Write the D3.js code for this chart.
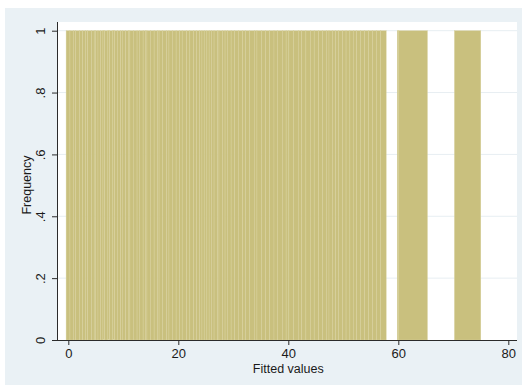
<!DOCTYPE html>
<html>
<head>
<meta charset="utf-8">
<script src="https://cdn.jsdelivr.net/npm/d3@7"></script>
<style>
  html, body { margin: 0; padding: 0; background: #ffffff; }
  svg { display: block; }
  text { font-family: "Liberation Sans", Arial, sans-serif; fill: #1a1a1a; }
</style>
</head>
<body>
<svg id="chart" width="522" height="385"></svg>
<script>
// Histogram of fitted values: bin edges of each contiguous run of bins
const runA = [-0.4, 0.3, 0.9, 1.3, 2.0, 2.6, 3.1, 3.5, 4.2, 4.7, 5.0, 5.4, 5.9, 6.3, 6.6, 7.2, 7.5, 8.1, 8.4, 8.9,
  9.5, 9.8, 10.4, 10.9, 11.2, 11.8, 12.5, 12.9, 13.6, 14.0, 14.3, 14.9, 15.6, 16.2, 16.5, 17.1, 17.9, 18.3, 18.9,
  19.6, 20.2, 20.7, 21.5, 22.1, 22.8, 23.3, 23.9, 24.3, 24.7, 25.2, 25.6, 26.0, 26.5, 27.1, 27.4, 28.0, 28.5, 28.9,
  29.6, 30.2, 30.9, 31.7, 32.2, 33.0, 33.8, 34.3, 35.1, 35.9, 36.6, 37.4, 38.0, 38.9, 39.6, 40.1, 41.0, 41.8, 42.4,
  43.2, 44.0, 44.7, 45.5, 46.2, 46.9, 47.4, 48.0, 48.6, 49.1, 49.9, 50.5, 51.2, 51.8, 52.4, 53.1, 53.9, 54.6, 55.3,
  56.0, 56.8, 57.8];
const runB = [59.8, 60.1, 65.3];
const runC = [70.2, 75.0];
// every bin holds one observation
const binCount = 1;

const xTicks = [0, 20, 40, 60, 80];
const yTicks = [0, 0.2, 0.4, 0.6, 0.8, 1];
const yTickLabels = ["0", ".2", ".4", ".6", ".8", "1"];
const xTitle = "Fitted values";
const yTitle = "Frequency";

const bins = [];
[runA, runB, runC].forEach(edges => {
  for (let i = 0; i < edges.length - 1; i++) {
    bins.push({ x0: edges[i], x1: edges[i + 1], n: binCount });
  }
});

const svg = d3.select("#chart");
const W = 522, H = 385;

// outer graph region
svg.append("rect").attr("x", 0).attr("y", 0).attr("width", W).attr("height", H).attr("fill", "#ffffff");
svg.append("rect").attr("x", 5).attr("y", 8).attr("width", W - 5).attr("height", H - 8).attr("fill", "#eaf1f5");

// plot region
const plot = { left: 58, top: 22, right: 517, bottom: 340 };
svg.append("rect")
  .attr("x", plot.left).attr("y", plot.top)
  .attr("width", plot.right - plot.left).attr("height", plot.bottom - plot.top)
  .attr("fill", "#ffffff");

const x = d3.scaleLinear().domain([0, 80]).range([68.3, 508.3]);
const y = d3.scaleLinear().domain([0, 1]).range([340, 30.7]);

// horizontal grid
svg.append("g").selectAll("line").data(yTicks.filter(d => d > 0)).join("line")
  .attr("x1", plot.left).attr("x2", plot.right)
  .attr("y1", d => y(d)).attr("y2", d => y(d))
  .attr("stroke", "#e7eef2").attr("stroke-width", 1);

// bars
svg.append("g").selectAll("rect").data(bins).join("rect")
  .attr("x", d => x(d.x0))
  .attr("width", d => x(d.x1) - x(d.x0))
  .attr("y", d => y(d.n))
  .attr("height", d => y(0) - y(d.n))
  .attr("fill", "#c9c07e")
  .attr("stroke", "#dad3a0")
  .attr("stroke-width", 0.4);

// x axis
const xAxis = d3.axisBottom(x).tickValues(xTicks).tickSize(5).tickPadding(4).tickFormat(d3.format("d"));
const gx = svg.append("g").attr("transform", `translate(0,${plot.bottom})`).call(xAxis);
gx.select(".domain").attr("d", `M${plot.left},0.5H${plot.right}`).attr("stroke", "#2b2b2b");
gx.selectAll(".tick line").attr("stroke", "#2b2b2b");
gx.selectAll(".tick text").attr("font-size", "13px").attr("fill", "#1a1a1a")
  .style("font-family", "'Liberation Sans', Arial, sans-serif");

// y axis with rotated labels
const yAxis = d3.axisLeft(y).tickValues(yTicks).tickSize(6).tickFormat((d, i) => yTickLabels[i]);
const gy = svg.append("g").attr("transform", `translate(${plot.left},0)`).call(yAxis);
gy.select(".domain").attr("d", `M-0.5,${plot.top}V${plot.bottom}`).attr("stroke", "#2b2b2b");
gy.selectAll(".tick line").attr("stroke", "#2b2b2b");
gy.selectAll(".tick text")
  .attr("font-size", "13px").attr("fill", "#1a1a1a")
  .style("font-family", "'Liberation Sans', Arial, sans-serif")
  .attr("x", null).attr("dy", null)
  .attr("text-anchor", "middle")
  .attr("transform", "translate(-18,0) rotate(-90)")
  .attr("dy", "0.35em");

// titles
svg.append("text").attr("x", (x(0) + x(80)) / 2).attr("y", 373)
  .attr("text-anchor", "middle").attr("font-size", "12.5px").text(xTitle);
svg.append("text").attr("transform", `translate(31,${(plot.top + plot.bottom) / 2 + 4}) rotate(-90)`)
  .attr("text-anchor", "middle").attr("font-size", "12.5px").text(yTitle);
</script>
</body>
</html>
